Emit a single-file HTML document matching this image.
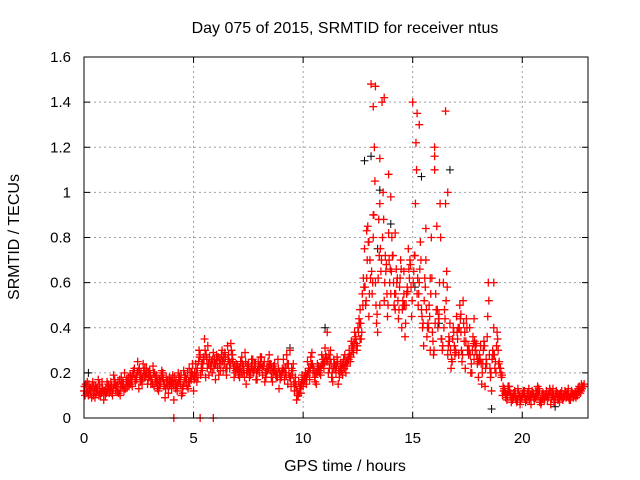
<!DOCTYPE html>
<html><head><meta charset="utf-8"><style>body{margin:0;background:#fff}svg{display:block;font-family:"Liberation Sans",sans-serif}</style></head>
<body>
<svg id="chart" width="640" height="480" viewBox="0 0 640 480">
<text x="345" y="33" font-size="16" text-anchor="middle">Day 075 of 2015, SRMTID for receiver ntus</text>
<text transform="translate(19,237) rotate(-90)" font-size="16" text-anchor="middle">SRMTID / TECUs</text>
<text x="345" y="471" font-size="16" text-anchor="middle">GPS time / hours</text>
<g id="grid"></g>
<g id="ticks"></g>
<g id="black" stroke="#000" stroke-width="1" fill="none"></g>
<g id="red" stroke="#f00" stroke-width="1.3" fill="none"></g>
<rect x="84" y="57" width="504" height="361" fill="none" stroke="#000"/>
</svg>
<script>
const xTicks=[0,5,10,15,20];
const yTicks=[0,0.2,0.4,0.6,0.8,1,1.2,1.4,1.6];
const yTickLabels=["0","0.2","0.4","0.6","0.8","1","1.2","1.4","1.6"];
const redA=[0.12,0.14,0.10,0.13,0.16,0.09,0.12,0.15,0.11,0.08,
0.13,0.15,0.12,0.10,0.17,0.14,0.12,0.18,0.15,0.13,
0.16,0.19,0.14,0.22,0.17,0.13,0.20,0.24,0.18,0.15,
0.21,0.17,0.14,0.19,0.12,0.16,0.20,0.09,0.15,0.18,
0.13,0.08,0.17,0.20,0.15,0.11,0.19,0.14,0.22,0.17,
0.12,0.24,0.18,0.28,0.21,0.35,0.26,0.19,0.23,0.29,
0.17,0.22,0.26,0.30,0.24,0.19,0.28,0.33,0.25,0.20,
0.23,0.18,0.27,0.21,0.15,0.24,0.19,0.26,0.22,0.17,
0.20,0.27,0.23,0.18,0.25,0.21,0.16,0.24,0.20,0.13,
0.18,0.26,0.22,0.15,0.30,0.19,0.12,0.08,0.16,0.11,
0.14,0.20,0.25,0.17,0.29,0.21,0.15,0.23,0.19,0.26,
0.31,0.38,0.22,0.18,0.26,0.20,0.15,0.24,0.19,0.28,
0.23,0.30,0.34,0.29,0.36,0.40,0.48,0.55,0.75,0.62,
0.45,1.48,0.80,0.60,0.38,0.95,1.40,0.52,0.68,0.82,
0.55,0.72,0.48,0.62,0.58,0.40,0.65,0.50,0.75,0.68,
1.40,0.72,0.55,0.60,0.48,0.32,0.70,0.42,0.30,0.38,
1.10,0.85,0.46,0.35,0.60,1.36,0.28,0.42,0.25,0.32,
0.45,0.28,0.38,0.52,0.22,0.30,0.40,0.20,0.26,0.33,
0.18,0.32,0.24,0.14,0.36,0.28,0.12,0.40,0.20,0.30,
0.22,0.10,0.12,0.08,0.14,0.07,0.11,0.09,0.13,0.06,
0.10,0.12,0.08,0.13,0.06,0.11,0.09,0.14,0.07,0.10,
0.08,0.12,0.10,0.06,0.13,0.09,0.11,0.07,0.12,0.10,
0.09,0.13,0.08,0.11,0.10,0.12,0.14,0.15,0.14];
const redB=[0.10,0.16,0.13,0.09,0.14,0.11,0.17,0.10,0.13,0.12,
0.16,0.11,0.14,0.19,0.12,0.16,0.10,0.14,0.20,0.17,
0.14,0.18,0.21,0.16,0.25,0.19,0.15,0.18,0.22,0.20,
0.15,0.23,0.18,0.13,0.17,0.21,0.14,0.18,0.11,0.16,
0.19,0.15,0.12,0.18,0.10,0.21,0.16,0.13,0.18,0.24,
0.20,0.16,0.30,0.22,0.27,0.18,0.32,0.24,0.20,0.26,
0.28,0.19,0.24,0.21,0.27,0.32,0.22,0.26,0.18,0.24,
0.19,0.25,0.20,0.29,0.23,0.18,0.26,0.21,0.17,0.25,
0.27,0.19,0.16,0.22,0.28,0.18,0.23,0.19,0.26,0.17,
0.22,0.17,0.28,0.20,0.14,0.24,0.18,0.10,0.13,0.19,
0.18,0.15,0.22,0.27,0.20,0.16,0.24,0.20,0.28,0.22,
0.25,0.20,0.30,0.16,0.22,0.27,0.18,0.21,0.26,0.20,
0.27,0.25,0.32,0.38,0.30,0.44,0.35,0.62,0.50,0.85,
0.70,0.55,1.20,0.42,0.88,0.65,1.00,0.72,0.45,0.60,
0.80,0.50,0.66,0.44,0.70,0.52,0.36,0.58,0.62,0.45,
0.65,1.22,0.50,0.78,0.40,0.62,0.36,0.50,0.80,0.28,
0.55,0.40,0.95,0.30,0.48,0.65,0.36,0.22,0.40,0.30,
0.35,0.50,0.25,0.34,0.44,0.28,0.20,0.36,0.30,0.24,
0.28,0.15,0.34,0.26,0.60,0.18,0.30,0.22,0.38,0.25,
0.18,0.12,0.09,0.14,0.10,0.08,0.12,0.07,0.10,0.09,
0.12,0.07,0.11,0.09,0.12,0.08,0.10,0.13,0.06,0.11,
0.10,0.08,0.13,0.11,0.07,0.12,0.09,0.11,0.08,0.12,
0.11,0.08,0.12,0.10,0.09,0.13,0.11,0.14];
const redC=[0.14,0.11,0.15,0.12,0.10,0.14,0.13,0.11,0.16,0.12,
0.11,0.14,0.16,0.13,0.15,0.12,0.17,0.15,0.12,0.16,
0.18,0.15,0.19,0.17,0.20,0.22,0.17,0.21,0.19,0.17,
0.19,0.15,0.20,0.16,0.14,0.19,0.17,0.13,0.17,0.15,
0.16,0.18,0.14,0.16,0.19,0.14,0.18,0.20,0.16,0.20,
0.17,0.20,0.25,0.19,0.24,0.30,0.22,0.27,0.25,0.22,
0.24,0.27,0.21,0.25,0.29,0.22,0.25,0.30,0.22,0.21,
0.21,0.22,0.24,0.18,0.20,0.22,0.23,0.20,0.24,0.21,
0.23,0.22,0.25,0.20,0.22,0.24,0.20,0.21,0.18,0.20,
0.20,0.22,0.19,0.24,0.18,0.21,0.15,0.12,0.11,0.15,
0.16,0.18,0.20,0.22,0.24,0.18,0.20,0.21,0.23,0.24,
0.28,0.25,0.26,0.20,0.24,0.23,0.21,0.22,0.23,0.24,
0.25,0.28,0.30,0.33,0.33,0.38,0.42,0.50,0.58,0.70,
0.55,0.65,0.90,0.50,0.62,0.75,0.80,0.60,0.55,0.70,
0.65,0.60,0.55,0.52,0.62,0.48,0.50,0.55,0.66,0.58,
0.60,0.95,0.62,0.66,0.45,0.52,0.48,0.40,0.55,0.34,
0.42,0.48,0.60,0.35,0.40,0.52,0.32,0.30,0.35,0.28,
0.38,0.40,0.30,0.42,0.34,0.32,0.28,0.30,0.34,0.28,
0.25,0.24,0.30,0.22,0.45,0.22,0.26,0.28,0.32,0.24,
0.20,0.14,0.11,0.10,0.12,0.09,0.10,0.08,0.11,0.08,
0.11,0.09,0.10,0.08,0.10,0.09,0.12,0.10,0.08,0.09,
0.09,0.10,0.11,0.09,0.10,0.10,0.08,0.10,0.09,0.10,
0.10,0.09,0.10,0.09,0.11,0.10,0.12,0.13,0.15];
const redD=[0.15,0.12,0.11,0.14,0.12,0.13,0.10,0.13,0.12,0.10,
0.12,0.13,0.11,0.15,0.14,0.11,0.14,0.16,0.13,0.14,
0.15,0.17,0.20,0.18,0.21,0.16,0.18,0.22,0.20,0.18,
0.17,0.20,0.16,0.17,0.15,0.18,0.15,0.16,0.14,0.17,
0.15,0.13,0.15,0.17,0.13,0.16,0.17,0.16,0.20,0.19,
0.18,0.22,0.27,0.24,0.26,0.28,0.24,0.22,0.26,0.24,
0.26,0.24,0.28,0.27,0.22,0.26,0.24,0.28,0.23,0.22,
0.22,0.20,0.23,0.25,0.21,0.20,0.22,0.24,0.20,0.23,
0.24,0.23,0.20,0.21,0.24,0.22,0.21,0.18,0.22,0.19,
0.21,0.20,0.24,0.18,0.22,0.16,0.14,0.10,0.14,0.17,
0.17,0.19,0.21,0.24,0.22,0.20,0.21,0.22,0.24,0.25,
0.27,0.28,0.24,0.22,0.23,0.25,0.20,0.24,0.22,0.25,
0.26,0.27,0.31,0.35,0.32,0.42,0.38,0.58,0.52,0.78,
0.62,0.60,1.05,0.46,0.72,0.70,0.88,0.65,0.50,0.66,
0.72,0.55,0.60,0.48,0.66,0.50,0.42,0.56,0.70,0.52,
0.72,1.10,0.55,0.70,0.42,0.58,0.40,0.45,0.62,0.30,
0.48,0.44,0.80,0.32,0.44,0.58,0.34,0.26,0.38,0.29,
0.40,0.44,0.28,0.38,0.40,0.30,0.24,0.33,0.32,0.26,
0.26,0.20,0.32,0.24,0.52,0.20,0.28,0.25,0.35,0.22,
0.19,0.13,0.10,0.12,0.11,0.09,0.11,0.08,0.10,0.09,
0.11,0.08,0.10,0.10,0.11,0.09,0.11,0.12,0.07,0.10,
0.10,0.09,0.12,0.10,0.08,0.11,0.10,0.10,0.09,0.11,
0.10,0.09,0.11,0.10,0.10,0.12,0.12,0.14];
const redExtraX=[13.3,13.2,13.7,13.9,13.5,15.2,15.3,16.0,16.0,16.6,14.0,13.0,13.2,12.9,15.6,16.5,18.7,17.2,12.6,13.5,14.2,14.6,15.8,17.8,4.1,5.3,5.9];
const redExtraY=[1.47,1.38,1.42,1.08,1.15,1.35,1.30,1.20,1.16,1.00,0.98,0.78,0.90,0.83,0.84,0.95,0.60,0.46,0.35,0.50,0.82,0.55,0.62,0.44,0,0,0];
const blackX=[0.2,9.4,11.0,12.8,13.1,13.5,14.0,15.4,16.7,18.6,13.4,15.1,16.2,21.5];
const blackY=[0.20,0.31,0.40,1.14,1.16,1.01,0.86,1.07,1.10,0.04,0.75,0.58,0.42,0.05];
const X0=84,X1=588,Y0=418,Y1=57,XMAX=23,YMAX=1.6;
const sx=v=>X0+v/XMAX*(X1-X0), sy=v=>Y0-v/YMAX*(Y0-Y1);
const NS="http://www.w3.org/2000/svg";
function mk(t,a,p){const e=document.createElementNS(NS,t);for(const k in a)e.setAttribute(k,a[k]);p.appendChild(e);return e;}
const grid=document.getElementById('grid'),ticks=document.getElementById('ticks');
xTicks.forEach((v,i)=>{const x=sx(v);
 if(i>0){const g=mk('line',{x1:x,x2:x,y1:Y0,y2:Y1,stroke:'#a0a0a0','stroke-dasharray':'2,3'},grid);}
 const t=mk('line',{x1:x,x2:x,y1:Y0,y2:Y0-6,stroke:'#000'},ticks);
 const t2=mk('line',{x1:x,x2:x,y1:Y1,y2:Y1+6,stroke:'#000'},ticks);
 const l=mk('text',{x:x,y:443,'font-size':15,'text-anchor':'middle'},ticks);l.textContent=v;});
yTicks.forEach((v,i)=>{const y=sy(v);
 if(i>0&&i<yTicks.length-1){const g=mk('line',{x1:X0,x2:X1,y1:y,y2:y,stroke:'#a0a0a0','stroke-dasharray':'2,3'},grid);}
 const t=mk('line',{x1:X0,x2:X0+6,y1:y,y2:y,stroke:'#000'},ticks);
 const t2=mk('line',{x1:X1,x2:X1-6,y1:y,y2:y,stroke:'#000'},ticks);
 const l=mk('text',{x:71,y:y+5,'font-size':15,'text-anchor':'end'},ticks);l.textContent=yTickLabels[i];});
function plus(x,y,g){const p=mk('path',{d:`M${sx(x)-4},${sy(y)}h8M${sx(x)},${sy(y)-4}v8`},g);}
const bg=document.getElementById('black'),rg=document.getElementById('red');
blackX.forEach((x,i)=>plus(x,blackY[i],bg));
redA.forEach((v,i)=>plus(i*0.1,v,rg));
redB.forEach((v,i)=>plus(i*0.1+0.05,v,rg));
redC.forEach((v,i)=>plus(i*0.1+0.025,v,rg));
redD.forEach((v,i)=>plus(i*0.1+0.075,v,rg));
redExtraX.forEach((x,i)=>plus(x,redExtraY[i],rg));
</script>
</body></html>
